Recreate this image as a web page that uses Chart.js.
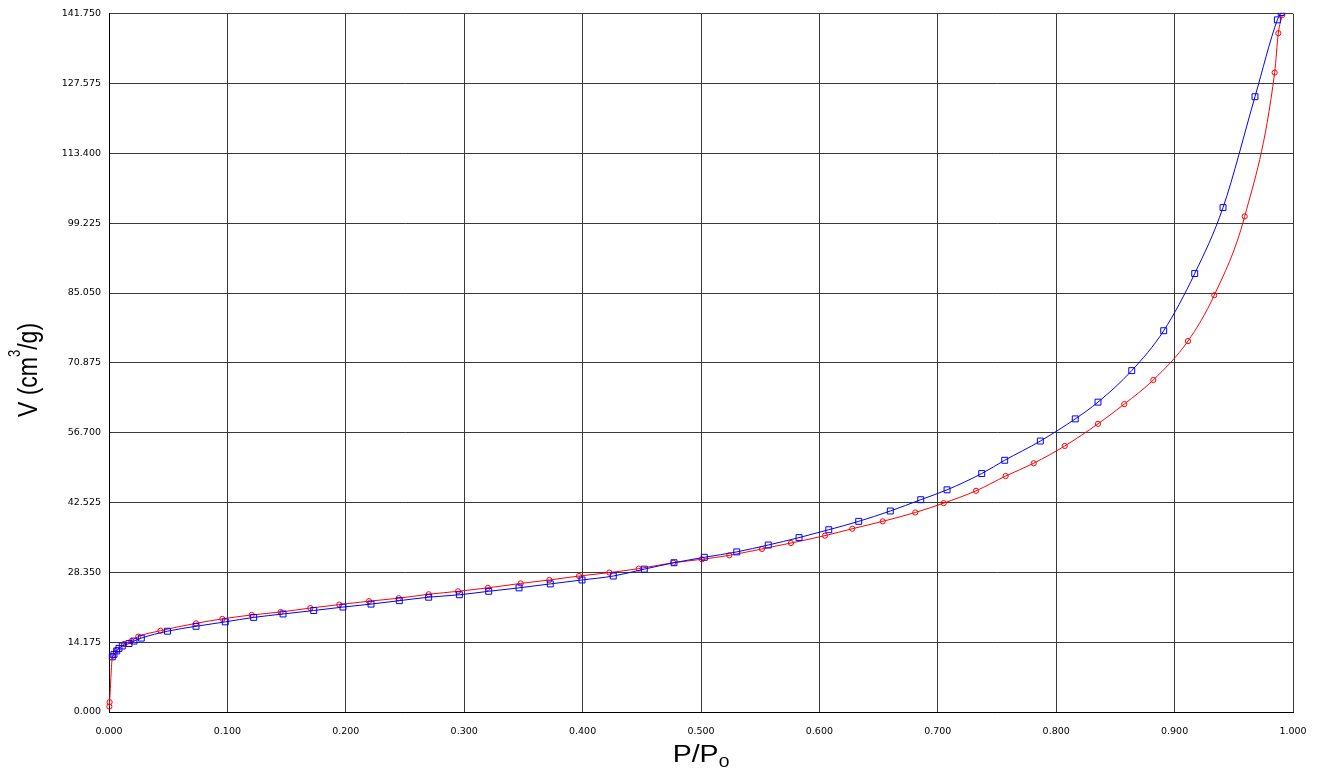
<!DOCTYPE html>
<html>
<head>
<meta charset="utf-8">
<title>Isotherm</title>
<script src="https://cdn.jsdelivr.net/npm/chart.js@4.4.1/dist/chart.umd.min.js"></script>
<style>
  html, body { margin: 0; padding: 0; background: #ffffff; }
  #wrap { width: 1322px; height: 771px; }
</style>
</head>
<body>
<div id="wrap"><canvas id="iso" width="1322" height="771"></canvas></div>
<script>
// Relative pressure P/P0 and adsorbed volume (cm3/g), adsorption branch
const adsPressure = [0.0003, 0.0005, 0.003, 0.0068, 0.0127, 0.0188, 0.0247, 0.0435, 0.0735, 0.0957,
  0.1205, 0.145, 0.170, 0.1945, 0.2196, 0.2447, 0.270, 0.2948, 0.320, 0.3477,
  0.3719, 0.397, 0.4226, 0.4474, 0.4766, 0.5008, 0.5239, 0.5515, 0.576, 0.6047,
  0.6278, 0.6535, 0.681, 0.705, 0.7323, 0.7573, 0.781, 0.8072, 0.8353, 0.8575,
  0.882, 0.9113, 0.9335, 0.9592, 0.9845, 0.9876, 0.991];
const adsVolume = [1.1, 2.0, 11.4, 12.6, 13.8, 14.4, 15.3, 16.5, 18.0, 18.9,
  19.7, 20.3, 21.1, 21.8, 22.5, 23.1, 23.9, 24.5, 25.2, 26.1,
  26.8, 27.6, 28.3, 29.1, 30.3, 31.0, 31.8, 33.1, 34.3, 35.8,
  37.2, 38.7, 40.5, 42.4, 44.9, 47.9, 50.5, 54.0, 58.5, 62.5,
  67.4, 75.3, 84.6, 100.6, 129.8, 137.8, 141.5];

// Desorption branch
const desPressure = [0.0028, 0.0042, 0.0065, 0.0084, 0.0112, 0.0169, 0.0211, 0.0273, 0.0494, 0.0735,
  0.0982, 0.1222, 0.147, 0.1729, 0.1976, 0.2213, 0.2452, 0.270, 0.2959, 0.3207,
  0.3463, 0.3727, 0.3995, 0.4259, 0.4521, 0.4772, 0.5028, 0.5302, 0.5568, 0.5828,
  0.6079, 0.6332, 0.6599, 0.6856, 0.7078, 0.7371, 0.7565, 0.7866, 0.8161, 0.8353,
  0.8638, 0.8908, 0.917, 0.9409, 0.9679, 0.9868, 0.9900];
const desVolume = [11.2, 11.7, 12.4, 12.9, 13.4, 13.9, 14.4, 15.0, 16.4, 17.4,
  18.3, 19.2, 19.9, 20.6, 21.3, 21.9, 22.6, 23.3, 23.8, 24.5,
  25.2, 26.0, 26.8, 27.6, 29.0, 30.3, 31.4, 32.5, 33.9, 35.4,
  37.0, 38.7, 40.8, 43.1, 45.1, 48.4, 51.1, 55.0, 59.5, 62.9,
  69.3, 77.4, 89.0, 102.4, 124.9, 140.5, 142.0];

// Axis ticks
const xTicks = [0.0, 0.1, 0.2, 0.3, 0.4, 0.5, 0.6, 0.7, 0.8, 0.9, 1.0];
const yTicks = [0, 14.175, 28.35, 42.525, 56.7, 70.875, 85.05, 99.225, 113.4, 127.575, 141.75];

const xTitleParts = ['P/P', '0'];          // main text, subscript
const yTitleParts = ['V (cm', '3', '/g)']; // main, superscript, main

const toPoints = (xs, ys) => xs.map((x, i) => ({ x: x, y: ys[i] }));

// Axis titles with subscript / superscript, slightly widened glyphs
const axisTitles = {
  id: 'axisTitles',
  afterDraw(chart) {
    const ctx = chart.ctx;
    const area = chart.chartArea;
    const stretch = 1.24;
    const big = '23px "Liberation Sans", Arial, sans-serif';
    const small = '15.5px "Liberation Sans", Arial, sans-serif';
    const sup = '13px "Liberation Sans", Arial, sans-serif';

    // horizontal title
    ctx.save();
    ctx.fillStyle = '#000';
    ctx.textAlign = 'left';
    ctx.textBaseline = 'alphabetic';
    ctx.font = big;
    const w1 = ctx.measureText(xTitleParts[0]).width;
    ctx.font = small;
    const w2 = ctx.measureText(xTitleParts[1]).width;
    const cx = (area.left + area.right) / 2;
    ctx.translate(cx - (w1 + w2) * stretch / 2, 762);
    ctx.scale(stretch, 1);
    ctx.font = big;
    ctx.fillText(xTitleParts[0], 0, 0);
    ctx.font = small;
    ctx.fillText(xTitleParts[1], w1, 4.5);
    ctx.restore();

    // vertical title
    ctx.save();
    ctx.fillStyle = '#000';
    ctx.textAlign = 'left';
    ctx.textBaseline = 'alphabetic';
    ctx.font = big;
    const a = ctx.measureText(yTitleParts[0]).width;
    const c = ctx.measureText(yTitleParts[2]).width;
    ctx.font = sup;
    const b = ctx.measureText(yTitleParts[1]).width;
    const len = a + b + c;
    ctx.translate(37, 370);
    ctx.scale(stretch, 1);
    ctx.rotate(-Math.PI / 2);
    ctx.font = big;
    ctx.fillText(yTitleParts[0], -len / 2, 0);
    ctx.font = sup;
    ctx.fillText(yTitleParts[1], -len / 2 + a, -14);
    ctx.font = big;
    ctx.fillText(yTitleParts[2], -len / 2 + a + b, 0);
    ctx.restore();
  }
};

const tickFont = { family: '"DejaVu Sans", sans-serif', size: 9.5 };
const gridColor = '#3a3a3a';

new Chart(document.getElementById('iso'), {
  type: 'scatter',
  data: {
    datasets: [
      {
        label: 'Desorption',
        data: toPoints(desPressure, desVolume),
        showLine: true,
        borderColor: '#0000ff',
        borderWidth: 1,
        cubicInterpolationMode: 'monotone',
        pointStyle: 'rect',
        pointRadius: 4.2,
        pointBorderWidth: 1,
        pointBorderColor: '#0000ff',
        pointBackgroundColor: 'rgba(0,0,0,0)',
        clip: { left: 6, top: 1, right: 0, bottom: 6 }
      },
      {
        label: 'Adsorption',
        data: toPoints(adsPressure, adsVolume),
        showLine: true,
        borderColor: '#ff0000',
        borderWidth: 1,
        cubicInterpolationMode: 'monotone',
        pointStyle: 'circle',
        pointRadius: 2.6,
        pointBorderWidth: 1,
        pointBorderColor: '#ff0000',
        pointBackgroundColor: 'rgba(0,0,0,0)',
        clip: { left: 6, top: 1, right: 0, bottom: 6 }
      }
    ]
  },
  options: {
    responsive: false,
    animation: false,
    devicePixelRatio: 1,
    layout: { padding: { top: 13, right: 29, left: 0, bottom: 0 } },
    plugins: {
      legend: { display: false },
      tooltip: { enabled: false },
      title: { display: false }
    },
    scales: {
      x: {
        type: 'linear',
        min: 0,
        max: 1,
        afterBuildTicks: (scale) => { scale.ticks = xTicks.map(v => ({ value: v })); },
        afterFit: (scale) => { scale.height = 59; },
        ticks: {
          color: '#000',
          font: tickFont,
          padding: 14,
          maxRotation: 0,
          autoSkip: false,
          callback: (v) => Number(v).toFixed(3)
        },
        grid: { color: gridColor, lineWidth: 1, drawTicks: false },
        border: { color: '#000', width: 1 }
      },
      y: {
        type: 'linear',
        min: 0,
        max: 141.75,
        afterBuildTicks: (scale) => { scale.ticks = yTicks.map(v => ({ value: v })); },
        afterFit: (scale) => { scale.width = 109; },
        ticks: {
          color: '#000',
          font: tickFont,
          padding: 8,
          autoSkip: false,
          callback: (v) => Number(v).toFixed(3)
        },
        grid: { color: gridColor, lineWidth: 1, drawTicks: false },
        border: { color: '#000', width: 1 }
      }
    }
  },
  plugins: [axisTitles]
});
</script>
</body>
</html>
